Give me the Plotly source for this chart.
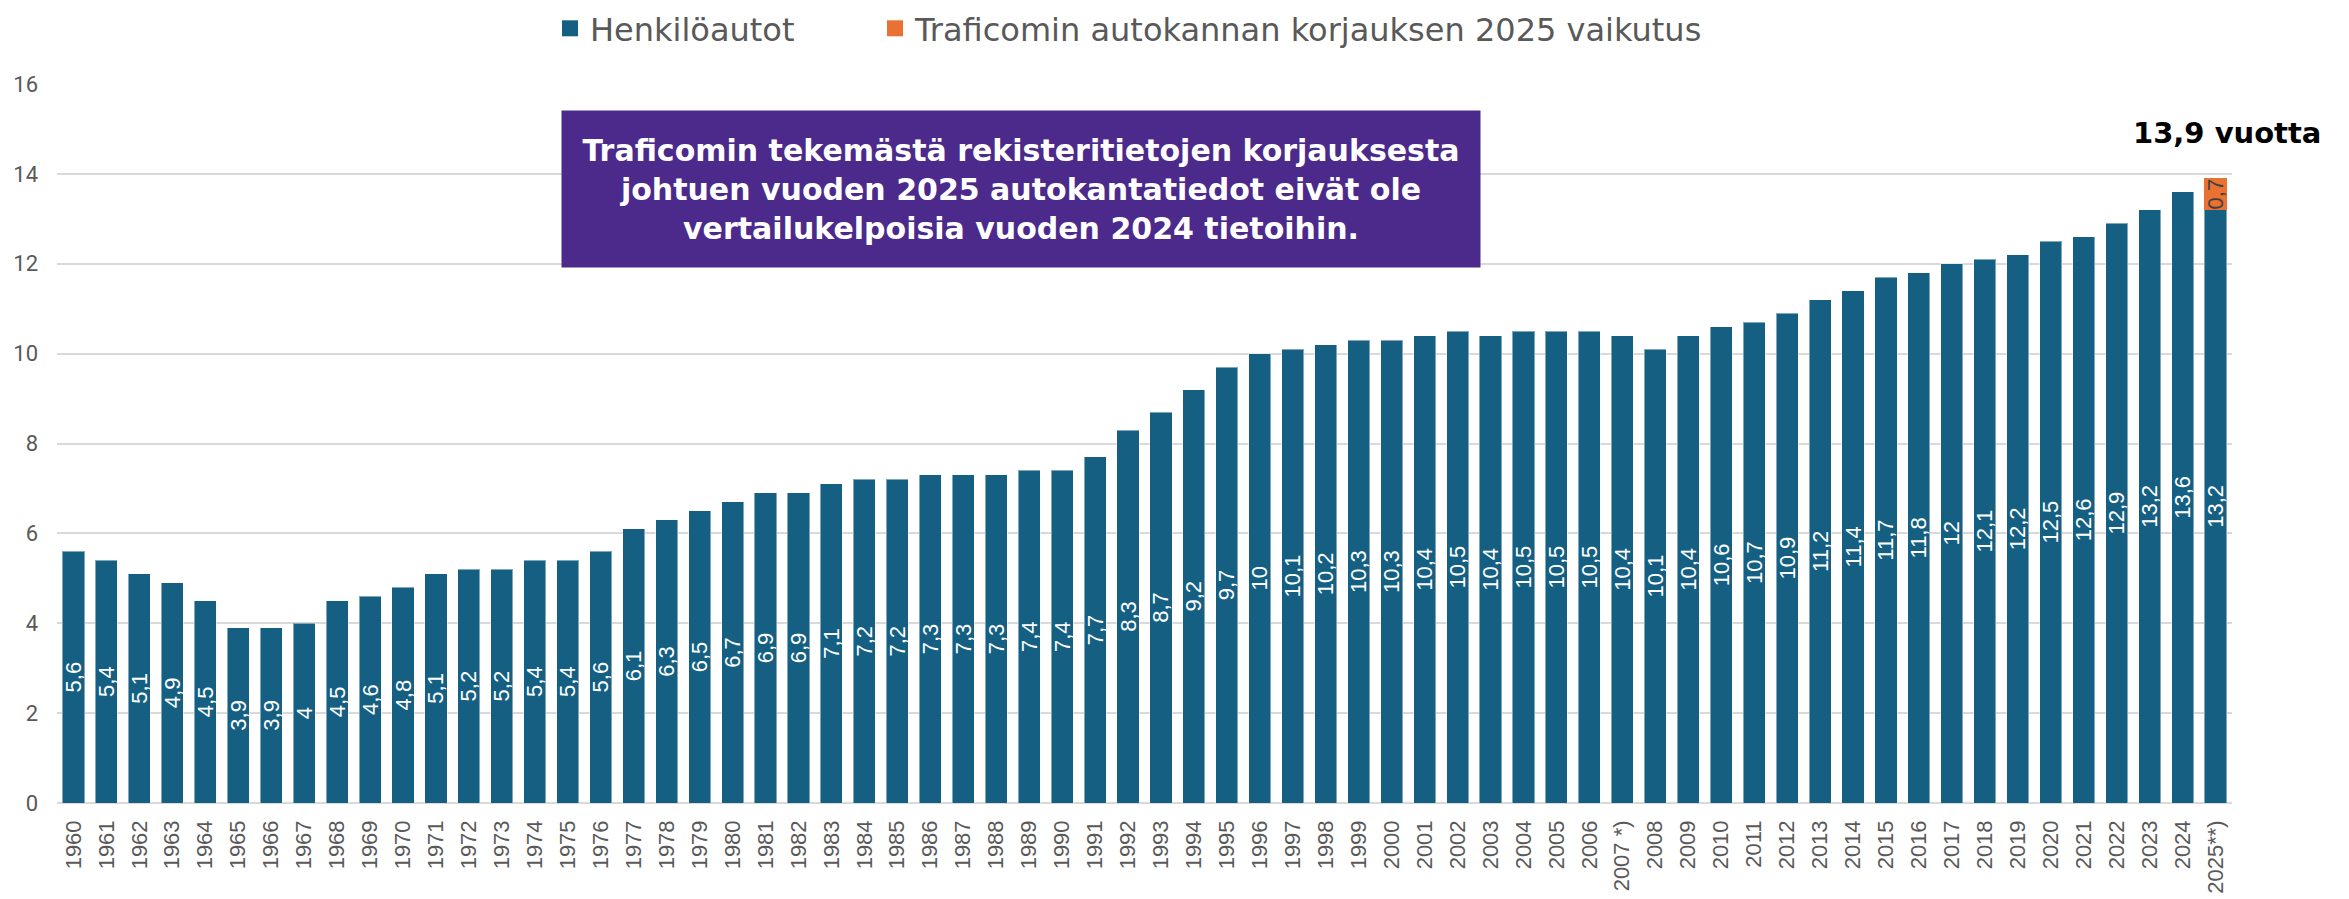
import plotly.graph_objects as go

years = [str(y) for y in range(1960, 2007)] + ["2007 *)"] + [str(y) for y in range(2008, 2025)] + ["2025**)"]
henkiloautot = [5.6, 5.4, 5.1, 4.9, 4.5, 3.9, 3.9, 4, 4.5, 4.6,
                4.8, 5.1, 5.2, 5.2, 5.4, 5.4, 5.6, 6.1, 6.3, 6.5,
                6.7, 6.9, 6.9, 7.1, 7.2, 7.2, 7.3, 7.3, 7.3, 7.4,
                7.4, 7.7, 8.3, 8.7, 9.2, 9.7, 10, 10.1, 10.2, 10.3,
                10.3, 10.4, 10.5, 10.4, 10.5, 10.5, 10.5, 10.4, 10.1, 10.4,
                10.6, 10.7, 10.9, 11.2, 11.4, 11.7, 11.8, 12, 12.1, 12.2,
                12.5, 12.6, 12.9, 13.2, 13.6, 13.2]
korjaus = [None] * 65 + [0.7]
series_names = ["Henkilöautot", "Traficomin autokannan korjauksen 2025 vaikutus"]
total_label = "13,9 vuotta"
note_text = ("Traficomin tekemästä rekisteritietojen korjauksesta<br>"
             "johtuen vuoden 2025 autokantatiedot eivät ole<br>"
             "vertailukelpoisia vuoden 2024 tietoihin.")


def fmt(v):
    if v is None:
        return ""
    return ("%g" % v).replace(".", ",")


BLUE = "#156082"
ORANGE = "#E97132"
GREY = "#595959"
PURPLE = "#4B2A8C"
WIDE = "DejaVu Sans, sans-serif"
SANS = "Roboto, sans-serif"
ARIAL = "Liberation Sans, Arial, sans-serif"

fig = go.Figure()
fig.add_trace(go.Bar(
    x=years, y=henkiloautot, name=series_names[0], showlegend=False,
    marker=dict(color=BLUE, line=dict(color="rgba(255,255,255,0.45)", width=1)),
    text=[fmt(v) for v in henkiloautot], textposition="inside",
    insidetextanchor="middle", textangle=-90, constraintext="none",
    textfont=dict(color="white", size=22, family=ARIAL),
    hoverinfo="x+y",
))
fig.add_trace(go.Bar(
    x=years, y=korjaus, name=series_names[1], showlegend=False,
    marker=dict(color=ORANGE, line=dict(width=0)),
    text=[fmt(v) for v in korjaus], textposition="inside",
    insidetextanchor="middle", textangle=-90, constraintext="none",
    textfont=dict(color="#404040", size=22, family=ARIAL),
    hoverinfo="x+y",
))
# legend entries (larger square swatches)
for name, col, lg in zip(series_names, [BLUE, ORANGE], ["legend", "legend2"]):
    fig.add_trace(go.Scatter(
        x=[None], y=[None], mode="markers", name=name, legend=lg,
        marker=dict(symbol="square", size=22, color=col), hoverinfo="skip",
    ))

fig.add_annotation(
    x=years[-1], y=14.9, xref="x", yref="y", text="<b>" + total_label + "</b>",
    showarrow=False, xshift=11,
    font=dict(size=29, color="black", family=WIDE),
)

fig.add_annotation(
    x=0.443, y=0.854, xref="paper", yref="paper", text="<b>" + note_text + "</b>",
    showarrow=False, xanchor="center", yanchor="middle",
    bgcolor=PURPLE, width=914, height=152, borderpad=2, align="center",
    font=dict(size=30, color="white", family=WIDE),
)

legend_common = dict(orientation="h", xref="container", yref="paper",
                     xanchor="left", y=1 + 83 / 719, yanchor="top",
                     font=dict(size=32, color=GREY, family=WIDE), itemwidth=30,
                     bgcolor="rgba(0,0,0,0)")

fig.update_layout(
    width=2349, height=899,
    margin=dict(l=49, r=125, t=76, b=104, autoexpand=False),
    paper_bgcolor="white", plot_bgcolor="white",
    barmode="stack", bargap=0.33,
    showlegend=True,
    legend=dict(x=542 / 2349, **legend_common),
    legend2=dict(x=867 / 2349, **legend_common),
    xaxis=dict(type="category", tickangle=-90, showgrid=False, automargin=False,
               range=[-0.5, len(years) - 0.5],
               tickfont=dict(size=22, color=GREY, family=ARIAL),
               showline=False, ticks="", ticklabelstandoff=12),
    yaxis=dict(range=[0, 16], dtick=2, showgrid=True, gridcolor="#D9D9D9", gridwidth=2,
               zeroline=True, zerolinecolor="#D9D9D9", zerolinewidth=2, automargin=False,
               tickfont=dict(size=22, color=GREY, family=SANS), ticks="",
               ticklabelstandoff=18),
)

fig.write_html("out.html")
